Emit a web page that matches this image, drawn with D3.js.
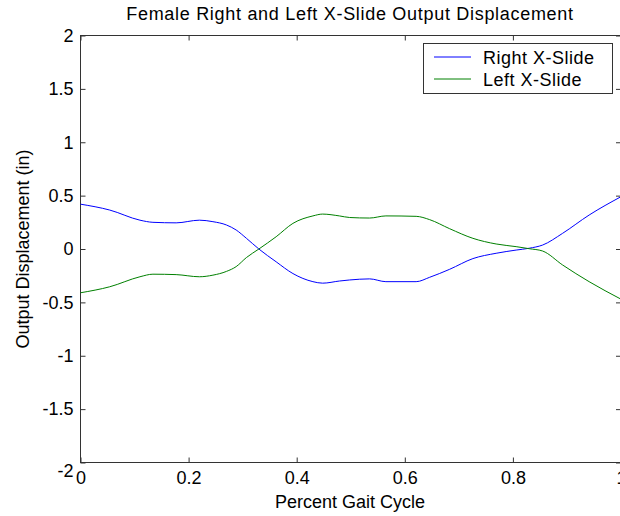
<!DOCTYPE html>
<html>
<head>
<meta charset="utf-8">
<script src="https://cdn.jsdelivr.net/npm/d3@7"></script>
<style>
  body { margin: 0; background: #fff; }
  svg { display: block; font-family: "Liberation Sans", Arial, sans-serif; }
  .axis text { font-size: 18px; fill: #000; }
  .axis line { stroke: #333; }
  .axis path { display: none; }
</style>
</head>
<body>
<svg width="620" height="516"></svg>
<script>
// percent gait cycle (x)
var gait = [0, 0.054, 0.11, 0.134, 0.177, 0.22, 0.245, 0.27, 0.288, 0.307,
            0.33, 0.362, 0.393, 0.43, 0.448, 0.479, 0.498, 0.535, 0.565, 0.621,
            0.646, 0.683, 0.726, 0.769, 0.806, 0.83, 0.855, 0.892, 0.941, 1.0];
// right x-slide output displacement (in)
var rightSlide = [0.42, 0.365, 0.27, 0.25, 0.245, 0.27, 0.256, 0.225, 0.178, 0.10,
                  0.0, -0.12, -0.23, -0.306, -0.32, -0.30, -0.29, -0.28, -0.306, -0.306,
                  -0.265, -0.19, -0.09, -0.04, -0.01, 0.007, 0.037, 0.147, 0.318, 0.49];
// left x-slide output displacement (in)
var leftSlide = [-0.41, -0.354, -0.26, -0.236, -0.24, -0.26, -0.245, -0.21, -0.165, -0.08,
                 0.0, 0.115, 0.24, 0.31, 0.327, 0.31, 0.295, 0.29, 0.31, 0.306,
                 0.275, 0.19, 0.10, 0.047, 0.022, 0.003, -0.019, -0.15, -0.306, -0.47];
var seriesNames = ["Right X-Slide", "Left X-Slide"];
var seriesColors = ["#0000ff", "#008000"];
var xTicks = [0, 0.2, 0.4, 0.6, 0.8, 1];
var yTicks = [-2, -1.5, -1, -0.5, 0, 0.5, 1, 1.5, 2];

var svg = d3.select("svg");
var margin = {top: 35.5, left: 80.5};
var plotWidth = 540.5;
var plotHeight = 427;

var x = d3.scaleLinear().domain([0, 1]).range([margin.left, margin.left + plotWidth]);
var y = d3.scaleLinear().domain([-2, 2]).range([margin.top + plotHeight, margin.top]);

// axes box
svg.append("rect")
  .attr("x", x(0)).attr("y", y(2))
  .attr("width", x(1) - x(0)).attr("height", y(-2) - y(2))
  .attr("fill", "none").attr("stroke", "#333");

// ticks point inward like matlab
var fmt = function(d) { return String(d); };
svg.append("g").attr("class", "axis")
  .attr("transform", "translate(0," + y(-2) + ")")
  .call(d3.axisBottom(x).tickValues(xTicks).tickFormat(fmt).tickSizeInner(-5).tickSizeOuter(0).tickPadding(9));
svg.append("g").attr("class", "axis")
  .attr("transform", "translate(0," + y(2) + ")")
  .call(d3.axisTop(x).tickValues(xTicks).tickFormat("").tickSizeInner(-5).tickSizeOuter(0));
var yg = svg.append("g").attr("class", "axis")
  .attr("transform", "translate(" + x(0) + ",0)")
  .call(d3.axisLeft(y).tickValues(yTicks).tickFormat(fmt).tickSizeInner(-5).tickSizeOuter(0).tickPadding(7));
// matlab drops the bottom label a bit below the corner
yg.selectAll(".tick text").filter(function(d) { return d === -2; }).attr("dy", "0.75em");
svg.append("g").attr("class", "axis")
  .attr("transform", "translate(" + x(1) + ",0)")
  .call(d3.axisRight(y).tickValues(yTicks).tickFormat("").tickSizeInner(-5).tickSizeOuter(0));

// lines
var line = d3.line()
  .x(function(d) { return x(d[0]); })
  .y(function(d) { return y(d[1]); })
  .curve(d3.curveMonotoneX);
[rightSlide, leftSlide].forEach(function(vals, i) {
  svg.append("path")
    .datum(gait.map(function(g, j) { return [g, vals[j]]; }))
    .attr("fill", "none")
    .attr("stroke", seriesColors[i])
    .attr("stroke-width", 1)
    .attr("d", line);
});

// title and labels
svg.append("text")
  .attr("x", 350).attr("y", 19.5)
  .attr("text-anchor", "middle")
  .style("font-size", "18px").style("letter-spacing", "0.7px")
  .text("Female Right and Left X-Slide Output Displacement");
svg.append("text")
  .attr("x", 350).attr("y", 508)
  .attr("text-anchor", "middle")
  .style("font-size", "18px")
  .text("Percent Gait Cycle");
svg.append("text")
  .attr("transform", "translate(29," + y(0) + ") rotate(-90)")
  .attr("text-anchor", "middle")
  .style("font-size", "18px")
  .text("Output Displacement (in)");

// legend
var legend = svg.append("g");
legend.append("rect")
  .attr("x", 423.5).attr("y", 43.5).attr("width", 189).attr("height", 50)
  .attr("fill", "#fff").attr("stroke", "#333");
seriesNames.forEach(function(name, i) {
  var cy = 57 + i * 22;
  legend.append("line")
    .attr("x1", 434).attr("x2", 471).attr("y1", cy).attr("y2", cy)
    .attr("stroke", seriesColors[i]);
  legend.append("text")
    .attr("x", 483).attr("y", cy + 6.5)
    .style("font-size", "18px").style("letter-spacing", "0.5px")
    .text(name);
});
</script>
</body>
</html>
